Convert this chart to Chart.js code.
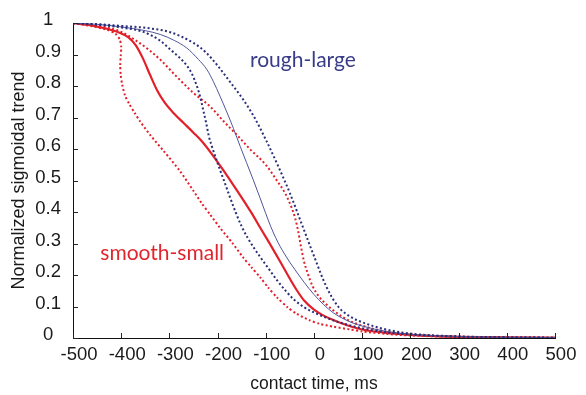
<!DOCTYPE html>
<html>
<head>
<meta charset="utf-8">
<script src="https://cdn.jsdelivr.net/npm/chart.js@4/dist/chart.umd.min.js"></script>
<style>
  body { margin: 0; background: #fff; }
</style>
</head>
<body>
<canvas id="myChart" width="586" height="395"></canvas>
<script>
// contact time (ms) vs normalized sigmoidal trend
const xTickLabels = ['-500', '-400', '-300', '-200', '-100', '0', '100', '200', '300', '400', '500'];
const yTickLabels = ['0', '0.1', '0.2', '0.3', '0.4', '0.5', '0.6', '0.7', '0.8', '0.9', '1'];

const smoothMean = [
  [-500, 1.0], [-460, 0.992], [-430, 0.982], [-405, 0.970], [-385, 0.955], [-370, 0.930],
  [-355, 0.888], [-340, 0.835], [-325, 0.785], [-310, 0.748], [-290, 0.712], [-270, 0.682],
  [-250, 0.652], [-230, 0.620], [-210, 0.580], [-190, 0.537], [-170, 0.492], [-150, 0.446],
  [-130, 0.398], [-110, 0.346], [-90, 0.295], [-70, 0.242], [-50, 0.188], [-35, 0.150],
  [-20, 0.118], [0, 0.090], [20, 0.071], [40, 0.057], [60, 0.045], [80, 0.035], [100, 0.027],
  [150, 0.016], [200, 0.010], [250, 0.006], [300, 0.004], [400, 0.002], [500, 0.001]
];
const smoothLow = [
  [-500, 1.0], [-460, 0.99], [-430, 0.979], [-412, 0.966], [-403, 0.948], [-400, 0.925],
  [-401, 0.895], [-402, 0.865], [-401, 0.835], [-398, 0.805], [-392, 0.770], [-383, 0.742],
  [-372, 0.715], [-361, 0.688], [-340, 0.645], [-312, 0.594], [-278, 0.530], [-250, 0.467],
  [-233, 0.428], [-216, 0.393], [-195, 0.350], [-170, 0.303], [-147, 0.256], [-130, 0.225],
  [-112, 0.193], [-95, 0.160], [-77, 0.129], [-55, 0.098], [-36, 0.077], [-10, 0.057],
  [12, 0.045], [40, 0.036], [75, 0.027], [100, 0.021], [150, 0.013], [200, 0.008],
  [300, 0.003], [400, 0.001], [500, 0.0]
];
const smoothHigh = [
  [-500, 1.0], [-450, 0.992], [-400, 0.972], [-367, 0.942], [-340, 0.912], [-319, 0.884],
  [-285, 0.830], [-250, 0.778], [-216, 0.736], [-188, 0.689], [-160, 0.645], [-133, 0.600],
  [-100, 0.550], [-77, 0.500], [-60, 0.460], [-48, 0.420], [-39, 0.380], [-33, 0.340],
  [-27, 0.290], [-21, 0.245], [-13, 0.205], [-3, 0.165], [10, 0.132], [25, 0.108],
  [40, 0.088], [60, 0.066], [80, 0.050], [100, 0.039], [150, 0.020], [200, 0.011],
  [300, 0.004], [400, 0.002], [500, 0.0]
];
const roughMean = [
  [-500, 1.0], [-450, 0.996], [-400, 0.988], [-350, 0.976], [-319, 0.964], [-290, 0.945],
  [-264, 0.921], [-240, 0.885], [-222, 0.852], [-209, 0.815], [-195, 0.768], [-181, 0.718],
  [-167, 0.665], [-153, 0.608], [-140, 0.557], [-126, 0.502], [-112, 0.445], [-100, 0.395],
  [-90, 0.355], [-80, 0.320], [-70, 0.290], [-60, 0.264], [-50, 0.240], [-40, 0.218],
  [-20, 0.176], [0, 0.138], [20, 0.106], [40, 0.080], [60, 0.062], [80, 0.048],
  [100, 0.038], [150, 0.021], [200, 0.012], [300, 0.005], [400, 0.002], [500, 0.001]
];
const roughLow = [
  [-500, 1.0], [-450, 0.995], [-400, 0.986], [-354, 0.972], [-320, 0.945], [-298, 0.916],
  [-280, 0.892], [-264, 0.865], [-252, 0.835], [-243, 0.800], [-236, 0.765], [-230, 0.725],
  [-224, 0.685], [-218, 0.640], [-210, 0.600], [-200, 0.555], [-188, 0.505], [-175, 0.450],
  [-162, 0.397], [-150, 0.354], [-138, 0.319], [-125, 0.287], [-112, 0.258], [-95, 0.222],
  [-77, 0.184], [-60, 0.152], [-43, 0.124], [-20, 0.097], [6, 0.077], [40, 0.056],
  [75, 0.040], [100, 0.031], [150, 0.018], [200, 0.011], [300, 0.004], [400, 0.002], [500, 0.001]
];
const roughHigh = [
  [-500, 1.0], [-450, 0.997], [-400, 0.991], [-350, 0.985], [-300, 0.972], [-275, 0.957],
  [-250, 0.937], [-225, 0.908], [-200, 0.865], [-175, 0.815], [-150, 0.764], [-125, 0.704],
  [-100, 0.630], [-75, 0.548], [-50, 0.460], [-25, 0.360], [0, 0.260], [25, 0.165],
  [50, 0.100], [75, 0.068], [100, 0.050], [125, 0.037], [150, 0.027], [200, 0.014],
  [300, 0.005], [400, 0.002], [500, 0.001]
];

const red = '#e2202a';
const blue = '#2a2f7c';

const toPoints = arr => arr.map(p => ({ x: p[0], y: p[1] }));

// text labels placed in data coordinates
const notes = [
  { text: 'rough-large', x: -23, y: 0.882, color: '#383c88' },
  { text: 'smooth-small', x: -315, y: 0.27, color: '#e1252e' }
];

const inwardTicks = {
  id: 'inwardTicks',
  afterDraw(chart) {
    const { ctx, scales: { x, y } } = chart;
    ctx.save();
    ctx.strokeStyle = '#222';
    ctx.lineWidth = 1;
    ctx.beginPath();
    x.ticks.forEach((t, i) => {
      const px = Math.round(x.getPixelForTick(i)) + 0.5;
      ctx.moveTo(px, y.bottom);
      ctx.lineTo(px, y.bottom - 5);
    });
    y.ticks.forEach((t, i) => {
      const py = Math.round(y.getPixelForTick(i)) + 0.5;
      ctx.moveTo(x.left, py);
      ctx.lineTo(x.left + 5, py);
    });
    ctx.stroke();

    ctx.font = '21px Lato';
    ctx.textAlign = 'center';
    ctx.textBaseline = 'middle';
    notes.forEach(n => {
      ctx.fillStyle = n.color;
      ctx.fillText(n.text, x.getPixelForValue(n.x), y.getPixelForValue(n.y));
    });
    ctx.restore();
  }
};

const dotted = (data, color) => ({
  data: toPoints(data),
  borderColor: color,
  borderWidth: 2,
  borderDash: [2, 2.4],
  pointRadius: 0,
  cubicInterpolationMode: 'monotone',
  fill: false
});

const config = {
  type: 'line',
  data: {
    datasets: [
      dotted(roughLow, blue),
      dotted(roughHigh, blue),
      { data: toPoints(roughMean), borderColor: '#50549a', borderWidth: 1, pointRadius: 0, cubicInterpolationMode: 'monotone', fill: false },
      { ...dotted(smoothLow, red), cubicInterpolationMode: 'default', tension: 0.25 },
      dotted(smoothHigh, red),
      { data: toPoints(smoothMean), borderColor: red, borderWidth: 2.2, pointRadius: 0, cubicInterpolationMode: 'monotone', fill: false }
    ]
  },
  options: {
    responsive: false,
    devicePixelRatio: 1,
    animation: false,
    layout: { padding: { top: 22, right: 31, left: 0, bottom: 0 } },
    plugins: { legend: { display: false }, tooltip: { enabled: false } },
    scales: {
      x: {
        type: 'linear',
        min: -500,
        max: 500,
        afterFit: s => { s.height = 57; },
        afterBuildTicks: s => { s.ticks = xTickLabels.map(v => ({ value: Number(v) })); },
        grid: { display: false, drawTicks: false },
        border: { display: true, color: '#111', width: 1 },
        ticks: {
          padding: 6,
          labelOffset: 6,
          color: '#1a1a1a',
          font: { family: 'Liberation Sans', size: 18.5 },
          maxRotation: 0,
          autoSkip: false,
          callback: (v, i) => xTickLabels[i]
        },
        title: {
          display: true,
          text: 'contact time, ms',
          color: '#1a1a1a',
          font: { family: 'Liberation Sans', size: 17.5 },
          padding: { top: 0, bottom: 0 }
        }
      },
      y: {
        type: 'linear',
        min: 0,
        max: 1,
        afterFit: s => { s.width = 73; },
        afterBuildTicks: s => { s.ticks = yTickLabels.map(v => ({ value: Number(v) })); },
        grid: { display: false, drawTicks: false },
        border: { display: true, color: '#111', width: 1 },
        ticks: {
          padding: 12,
          labelOffset: -3,
          crossAlign: 'center',
          color: '#1a1a1a',
          font: { family: 'Liberation Sans', size: 18.5 },
          autoSkip: false,
          callback: (v, i) => yTickLabels[i]
        },
        title: {
          display: true,
          text: 'Normalized sigmoidal trend',
          color: '#1a1a1a',
          font: { family: 'Liberation Sans', size: 18 },
          padding: { top: 8, bottom: 0 }
        }
      }
    }
  },
  plugins: [inwardTicks]
};

new Chart(document.getElementById('myChart'), config);
</script>
</body>
</html>
